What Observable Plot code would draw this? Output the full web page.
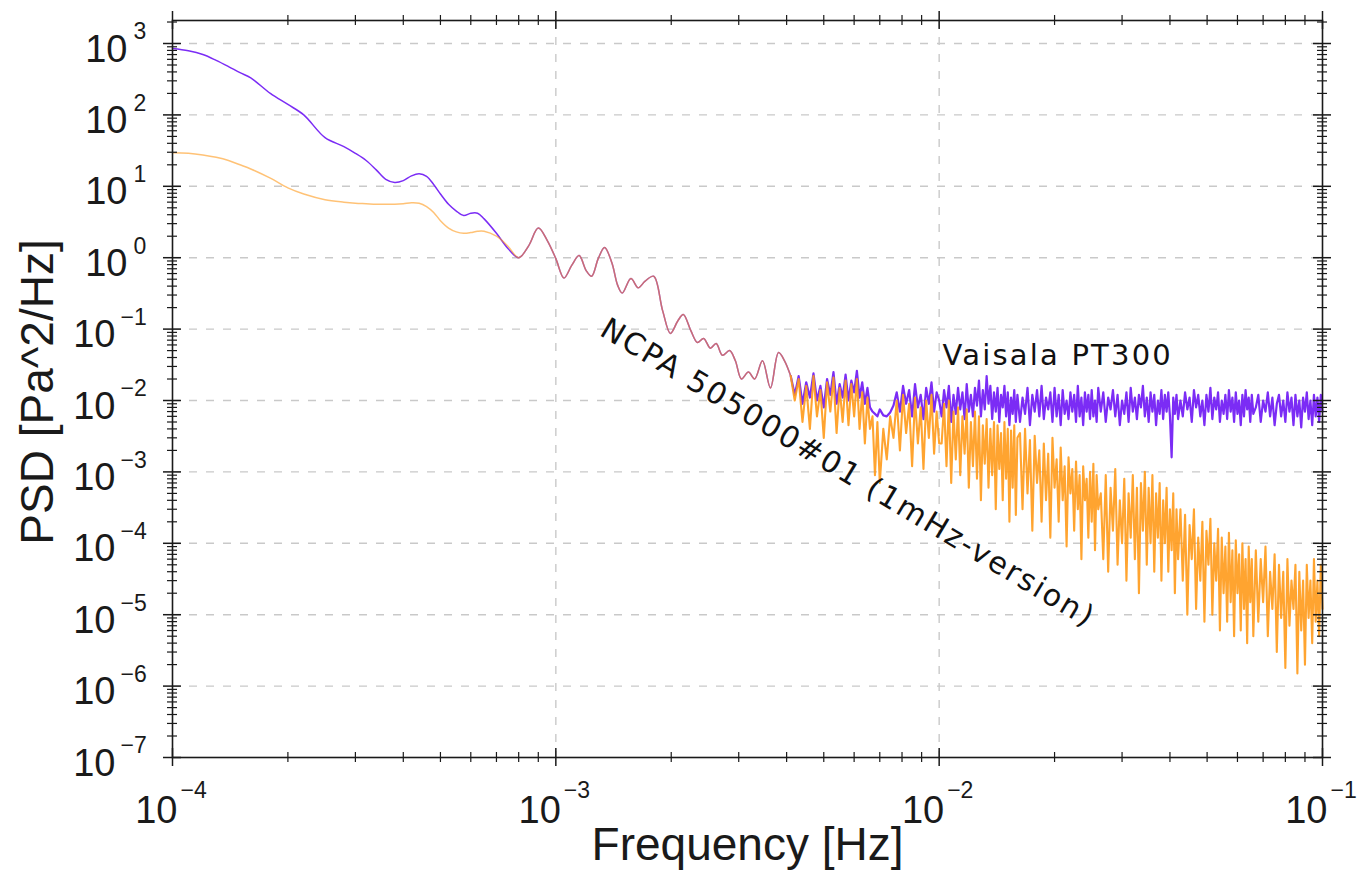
<!DOCTYPE html>
<html>
<head>
<meta charset="utf-8">
<script src="https://cdn.jsdelivr.net/npm/d3@7"></script>
<script src="https://cdn.jsdelivr.net/npm/@observablehq/plot@0.6"></script>
<style>
  html, body { margin: 0; padding: 0; background: #ffffff; }
  svg { display: block; }
</style>
</head>
<body>
<div id="chart"></div>
<script>
// ---------- data (frequency in Hz, PSD in Pa^2/Hz) ----------
const freqHz = [
  // low-frequency part (smooth)
  1.0e-4, 1.1e-4, 1.2e-4, 1.3e-4, 1.4e-4, 1.5e-4, 1.6e-4, 1.8e-4, 2.0e-4, 2.2e-4,
  2.5e-4, 2.8e-4, 3.0e-4, 3.2e-4, 3.4e-4, 3.6e-4, 3.8e-4, 4.0e-4, 4.2e-4, 4.4e-4,
  4.6e-4, 4.8e-4, 5.0e-4, 5.25e-4, 5.5e-4, 5.75e-4, 6.0e-4, 6.25e-4, 6.5e-4, 7.0e-4, 7.5e-4,
  // middle part (both sensors agree)
  8.0e-4, 8.5e-4, 9.0e-4, 9.5e-4, 1.0e-3, 1.05e-3, 1.1e-3, 1.15e-3, 1.2e-3, 1.24e-3,
  1.29e-3, 1.34e-3, 1.40e-3, 1.45e-3, 1.49e-3, 1.57e-3, 1.64e-3, 1.71e-3, 1.80e-3, 1.90e-3,
  1.99e-3, 2.08e-3, 2.15e-3, 2.25e-3, 2.34e-3, 2.43e-3, 2.53e-3, 2.62e-3, 2.72e-3, 2.84e-3,
  2.94e-3, 3.05e-3, 3.18e-3, 3.30e-3, 3.46e-3, 3.63e-3, 3.81e-3, 3.95e-3, 4.10e-3,
  // noisy part, 4.2 - 10 mHz
  4.2e-3, 4.3e-3, 4.4e-3, 4.5e-3, 4.6e-3, 4.7e-3, 4.8e-3, 4.9e-3, 5.0e-3, 5.1e-3,
  5.2e-3, 5.3e-3, 5.4e-3, 5.5e-3, 5.6e-3, 5.7e-3, 5.8e-3, 5.9e-3, 6.0e-3, 6.1e-3,
  6.2e-3, 6.3e-3, 6.4e-3, 6.5e-3, 6.6e-3, 6.7e-3, 6.8e-3, 6.9e-3, 7.0e-3,
  7.15e-3, 7.3e-3, 7.45e-3, 7.6e-3, 7.75e-3, 7.9e-3, 8.05e-3, 8.2e-3, 8.35e-3, 8.5e-3,
  8.65e-3, 8.8e-3, 8.95e-3, 9.1e-3, 9.25e-3, 9.4e-3, 9.55e-3, 9.7e-3, 9.85e-3, 10.0e-3,
  // 10 - 16 mHz
  10.15e-3, 10.3e-3, 10.45e-3, 10.6e-3, 10.75e-3, 10.9e-3, 11.05e-3, 11.2e-3, 11.35e-3, 11.5e-3,
  11.65e-3, 11.8e-3, 11.95e-3, 12.1e-3, 12.25e-3, 12.4e-3, 12.55e-3, 12.7e-3, 12.85e-3, 13.0e-3,
  13.15e-3, 13.3e-3, 13.45e-3, 13.6e-3, 13.75e-3, 13.9e-3, 14.05e-3, 14.2e-3, 14.35e-3, 14.5e-3,
  14.65e-3, 14.8e-3, 14.95e-3, 15.1e-3, 15.25e-3, 15.4e-3, 15.55e-3, 15.7e-3, 15.85e-3, 16.0e-3,
  // 16 - 26 mHz
  16.25e-3, 16.5e-3, 16.75e-3, 17.0e-3, 17.25e-3, 17.5e-3, 17.75e-3, 18.0e-3, 18.25e-3, 18.5e-3,
  18.75e-3, 19.0e-3, 19.25e-3, 19.5e-3, 19.75e-3, 20.0e-3, 20.25e-3, 20.5e-3, 20.75e-3, 21.0e-3,
  21.25e-3, 21.5e-3, 21.75e-3, 22.0e-3, 22.25e-3, 22.5e-3, 22.75e-3, 23.0e-3, 23.25e-3, 23.5e-3,
  23.75e-3, 24.0e-3, 24.25e-3, 24.5e-3, 24.75e-3, 25.0e-3, 25.25e-3, 25.5e-3, 25.75e-3, 26.0e-3,
  // 26 - 42 mHz
  26.4e-3, 26.8e-3, 27.2e-3, 27.6e-3, 28.0e-3, 28.4e-3, 28.8e-3, 29.2e-3, 29.6e-3, 30.0e-3,
  30.4e-3, 30.8e-3, 31.2e-3, 31.6e-3, 32.0e-3, 32.4e-3, 32.8e-3, 33.2e-3, 33.6e-3, 34.0e-3,
  34.4e-3, 34.8e-3, 35.2e-3, 35.6e-3, 36.0e-3, 36.4e-3, 36.8e-3, 37.2e-3, 37.6e-3, 38.0e-3,
  38.4e-3, 38.8e-3, 39.2e-3, 39.6e-3, 40.0e-3, 40.4e-3, 40.8e-3, 41.2e-3, 41.6e-3, 42.0e-3,
  // 42 - 66 mHz
  42.6e-3, 43.2e-3, 43.8e-3, 44.4e-3, 45.0e-3, 45.6e-3, 46.2e-3, 46.8e-3, 47.4e-3, 48.0e-3,
  48.6e-3, 49.2e-3, 49.8e-3, 50.4e-3, 51.0e-3, 51.6e-3, 52.2e-3, 52.8e-3, 53.4e-3, 54.0e-3,
  54.6e-3, 55.2e-3, 55.8e-3, 56.4e-3, 57.0e-3, 57.6e-3, 58.2e-3, 58.8e-3, 59.4e-3, 60.0e-3,
  60.6e-3, 61.2e-3, 61.8e-3, 62.4e-3, 63.0e-3, 63.6e-3, 64.2e-3, 64.8e-3, 65.4e-3, 66.0e-3,
  // 66 - 100 mHz
  67e-3, 68e-3, 69e-3, 70e-3, 71e-3, 72e-3, 73e-3, 74e-3, 75e-3, 76e-3,
  77e-3, 78e-3, 79e-3, 80e-3, 81e-3, 82e-3, 83e-3, 84e-3, 85e-3, 86e-3,
  87e-3, 88e-3, 89e-3, 90e-3, 91e-3, 92e-3, 93e-3, 94e-3, 95e-3, 96e-3,
  97e-3, 98e-3, 99e-3, 100e-3
];

const psdVaisala = [
  850, 790, 700, 580, 475, 390, 330, 200, 140, 100,
  48, 36, 29, 23, 17, 12.5, 11.3, 12, 14, 15,
  13.8, 10.6, 7.8, 5.6, 4.5, 3.9, 4.2, 4.2, 3.5, 2.2, 1.35,
  1.0, 1.48, 2.6, 1.74, 0.97, 0.52, 0.78, 1.07, 0.66, 0.55,
  0.97, 1.39, 0.85, 0.41, 0.32, 0.51, 0.38, 0.47, 0.55, 0.18,
  0.087, 0.13, 0.16, 0.095, 0.065, 0.074, 0.054, 0.063, 0.043, 0.050,
  0.036, 0.020, 0.025, 0.020, 0.036, 0.015, 0.047, 0.036, 0.022,
  // 4.2 - 10 mHz
  0.012, 0.022, 0.009, 0.018, 0.011, 0.024, 0.010, 0.016, 0.008, 0.020,
  0.012, 0.025, 0.009, 0.017, 0.011, 0.023, 0.010, 0.019, 0.013, 0.026,
  0.011, 0.018, 0.009, 0.015, 0.008, 0.007, 0.0065, 0.006, 0.0075,
  0.0062, 0.0060, 0.0068, 0.0085, 0.013, 0.007, 0.016, 0.009, 0.014, 0.006,
  0.017, 0.008, 0.012, 0.0055, 0.015, 0.009, 0.018, 0.007, 0.013, 0.010,
  // 10 - 16 mHz
  0.006, 0.014, 0.008, 0.016, 0.005, 0.012, 0.0065, 0.015, 0.0075, 0.013,
  0.0055, 0.017, 0.007, 0.012, 0.006, 0.015, 0.0085, 0.019, 0.006, 0.014,
  0.0075, 0.022, 0.009, 0.016, 0.0055, 0.013, 0.007, 0.015, 0.005, 0.012,
  0.008, 0.016, 0.006, 0.013, 0.0045, 0.011, 0.0065, 0.014, 0.005, 0.012,
  // 16 - 26 mHz
  0.005, 0.011, 0.0065, 0.015, 0.0045, 0.012, 0.007, 0.014, 0.006, 0.016,
  0.0055, 0.011, 0.0075, 0.013, 0.005, 0.015, 0.006, 0.012, 0.0045, 0.014,
  0.0065, 0.010, 0.0055, 0.013, 0.007, 0.012, 0.005, 0.016, 0.006, 0.011,
  0.0045, 0.013, 0.007, 0.012, 0.0055, 0.014, 0.006, 0.010, 0.005, 0.015,
  // 26 - 42 mHz
  0.007, 0.013, 0.005, 0.011, 0.0075, 0.014, 0.006, 0.012, 0.0045, 0.010,
  0.0065, 0.013, 0.005, 0.015, 0.007, 0.011, 0.0055, 0.012, 0.008, 0.016,
  0.006, 0.011, 0.005, 0.013, 0.007, 0.012, 0.0045, 0.010, 0.0065, 0.014,
  0.0055, 0.012, 0.007, 0.013, 0.006, 0.0016, 0.011, 0.0065, 0.012, 0.0055,
  // 42 - 66 mHz
  0.010, 0.006, 0.013, 0.0075, 0.011, 0.005, 0.014, 0.008, 0.012, 0.006,
  0.010, 0.0045, 0.012, 0.007, 0.015, 0.0055, 0.011, 0.0075, 0.013, 0.005,
  0.010, 0.0065, 0.012, 0.0055, 0.014, 0.007, 0.011, 0.005, 0.013, 0.0065,
  0.010, 0.0045, 0.012, 0.006, 0.014, 0.0075, 0.011, 0.005, 0.012, 0.0065,
  // 66 - 100 mHz
  0.008, 0.012, 0.005, 0.010, 0.007, 0.013, 0.006, 0.011, 0.0045, 0.009,
  0.012, 0.006, 0.010, 0.005, 0.013, 0.007, 0.011, 0.0045, 0.012, 0.006,
  0.010, 0.0042, 0.011, 0.007, 0.013, 0.0055, 0.010, 0.0045, 0.012, 0.006,
  0.011, 0.005, 0.012, 0.007
];

const psdNCPA = [
  29.5, 29, 27.5, 25.5, 23, 20, 17.5, 13, 9.5, 7.8,
  6.5, 6.0, 5.8, 5.7, 5.6, 5.6, 5.6, 5.7, 5.9, 5.8,
  5.2, 4.3, 3.3, 2.6, 2.3, 2.2, 2.25, 2.35, 2.35, 2.0, 1.45,
  1.0, 1.48, 2.6, 1.74, 0.97, 0.52, 0.78, 1.07, 0.66, 0.55,
  0.97, 1.39, 0.85, 0.41, 0.32, 0.51, 0.38, 0.47, 0.55, 0.18,
  0.087, 0.13, 0.16, 0.095, 0.065, 0.074, 0.054, 0.063, 0.043, 0.050,
  0.036, 0.020, 0.025, 0.020, 0.036, 0.015, 0.047, 0.036, 0.022,
  // 4.2 - 10 mHz
  0.010, 0.020, 0.005, 0.016, 0.004, 0.022, 0.006, 0.014, 0.003, 0.018,
  0.007, 0.021, 0.0035, 0.015, 0.005, 0.019, 0.0045, 0.017, 0.006, 0.020,
  0.004, 0.013, 0.0025, 0.011, 0.004, 0.006, 0.0009, 0.005, 0.0007,
  0.004, 0.0015, 0.006, 0.003, 0.010, 0.002, 0.012, 0.0035, 0.009, 0.0012,
  0.011, 0.0025, 0.008, 0.0011, 0.010, 0.003, 0.012, 0.0018, 0.007, 0.0025,
  // 10 - 16 mHz
  0.0025, 0.009, 0.0012, 0.010, 0.0007, 0.007, 0.0015, 0.008, 0.0009, 0.006,
  0.0018, 0.0075, 0.0006, 0.005, 0.0012, 0.007, 0.0008, 0.006, 0.0004, 0.0045,
  0.0013, 0.0055, 0.0006, 0.004, 0.0009, 0.005, 0.0003, 0.0045, 0.0011, 0.0035,
  0.0004, 0.005, 0.0008, 0.004, 0.0002, 0.0038, 0.0006, 0.0045, 0.00025, 0.003,
  // 16 - 26 mHz
  0.0035, 0.0003, 0.004, 0.0005, 0.0028, 0.00015, 0.0032, 0.0007, 0.002, 0.0002,
  0.0025, 0.0004, 0.0018, 0.00012, 0.003, 0.0006, 0.0015, 0.0002, 0.0022, 0.0004,
  0.0012, 0.00009, 0.0016, 0.0005, 0.0011, 0.00015, 0.0014, 0.0003, 0.0009, 0.00006,
  0.0012, 0.0004, 0.0008, 0.00012, 0.001, 0.0002, 0.0013, 0.00008, 0.0009, 0.0003,
  // 26 - 42 mHz
  0.0005, 0.00006, 0.0009, 0.00004, 0.0006, 0.00015, 0.0011, 0.00005, 0.0004, 0.0001,
  0.0008, 0.00003, 0.0005, 0.00012, 0.0009, 0.00006, 0.0006, 0.00002, 0.0007, 0.00015,
  0.001, 0.00005, 0.0006, 0.0001, 0.0009, 0.00004, 0.0005, 0.00012, 0.0007, 0.00003,
  0.0004, 0.0001, 0.0006, 0.00004, 0.0003, 0.00008, 0.0005, 0.00002, 0.0003, 0.00006,
  // 42 - 66 mHz
  0.0003, 0.00003, 0.00025, 0.00001, 0.00018, 0.00006, 0.0003, 0.000012, 0.00012, 0.00003,
  0.0002, 0.000008, 0.00015, 0.00005, 0.00022, 0.00001, 0.0001, 0.00003, 0.00016, 0.000006,
  0.00012, 0.00002, 0.00009, 0.000008, 0.00014, 0.000015, 0.00008, 0.000005, 0.00011, 0.00002,
  0.00007, 0.000006, 0.0001, 0.000012, 0.00006, 0.000004, 0.00009, 0.000015, 0.00006, 0.000005,
  // 66 - 100 mHz
  0.00008, 0.000008, 0.00006, 0.000015, 0.00009, 0.000005, 0.00004, 0.000012, 0.00007, 0.000003,
  0.00005, 0.000009, 0.00004, 0.0000018, 0.00006, 0.000007, 0.00003, 0.000012, 0.00005, 0.0000015,
  0.00004, 0.000006, 0.00003, 0.000002, 0.00005, 0.000009, 0.00003, 0.000004, 0.00006, 0.000008,
  0.00003, 0.000005, 0.00005, 0.000012
];

// axis tick values and labels
const xMajor = [1e-4, 1e-3, 1e-2, 1e-1];
const xExponent = ["\u22124", "\u22123", "\u22122", "\u22121"];
const yMajor = [1e-7, 1e-6, 1e-5, 1e-4, 1e-3, 1e-2, 1e-1, 1e0, 1e1, 1e2, 1e3];
const yExponent = ["\u22127", "\u22126", "\u22125", "\u22124", "\u22123", "\u22122", "\u22121", "0", "1", "2", "3"];
const minorSteps = [2, 3, 4, 5, 6, 7, 8, 9];

// annotation texts
const labelVaisala = "Vaisala PT300";
const labelNCPA = "NCPA 505000#01 (1mHz-version)";
const xTitle = "Frequency [Hz]";
const yTitle = "PSD [Pa^2/Hz]";

// ---------- build ----------
if (psdVaisala.length !== freqHz.length || psdNCPA.length !== freqHz.length) {
  console.error("length mismatch", freqHz.length, psdVaisala.length, psdNCPA.length);
}
const vaisalaData = freqHz.map((f, i) => ({f, v: psdVaisala[i]}));
const ncpaData = freqHz.map((f, i) => ({f, v: psdNCPA[i]}));
// smooth part (< 4.1 mHz) and noisy part (>= 4.1 mHz), sharing the 4.1 mHz point
const noiseStart = freqHz.indexOf(4.10e-3);
const vaisalaSmooth = vaisalaData.slice(0, noiseStart + 1);
const vaisalaNoisy = vaisalaData.slice(noiseStart);
const ncpaSmooth = ncpaData.slice(0, noiseStart + 1);
const ncpaNoisy = ncpaData.slice(noiseStart);

const xDomain = [1e-4, 1e-1];
const yDomain = [1e-7, 2100];

const xMinor = xMajor.slice(0, -1).flatMap(d => minorSteps.map(m => m * d));
const yMinor = yMajor.flatMap(d => minorSteps.map(m => m * d)).filter(v => v < yDomain[1]);

const xTicks = xMajor.map((v, i) => ({v, e: xExponent[i]}));
const yTicks = yMajor.map((v, i) => ({v, e: yExponent[i]}));
const yTicksNeg = yTicks.filter(d => d.v < 1);
const yTicksPos = yTicks.filter(d => d.v >= 1);

const axisColor = "#1a1a1a";
const purple = "#7b2cf5";
const orange = "#ff9a1a";
const tickFont = "Liberation Sans, Arial, Helvetica, sans-serif";
const annFont = "DejaVu Sans, Verdana, sans-serif";

const tickStyle = {stroke: axisColor, strokeWidth: 1.5};
const MAJ = 9, MIN = 5;
const lab = {lineAnchor: "middle", fontFamily: tickFont, fill: axisColor};

const chart = Plot.plot({
  width: 1361,
  height: 887,
  marginLeft: 172,
  marginRight: 39,
  marginTop: 20,
  marginBottom: 130,
  style: {background: "#ffffff", overflow: "visible"},
  x: {type: "log", domain: xDomain, axis: null},
  y: {type: "log", domain: yDomain, axis: null},
  marks: [
    // dashed decade grid
    Plot.ruleY(yMajor.slice(1), {y: d => d, stroke: "#c9c9c9", strokeWidth: 1.4, strokeDasharray: "8,9"}),
    Plot.ruleX(xMajor.slice(1, -1), {x: d => d, stroke: "#c9c9c9", strokeWidth: 1.4, strokeDasharray: "8,9"}),

    // spectra
    Plot.line(vaisalaSmooth, {x: "f", y: "v", stroke: purple, strokeWidth: 1.5, curve: "catmull-rom"}),
    Plot.line(vaisalaNoisy, {x: "f", y: "v", stroke: purple, strokeWidth: 2.2, strokeLinejoin: "round"}),
    Plot.line(ncpaSmooth, {x: "f", y: "v", stroke: orange, strokeWidth: 1.5, strokeOpacity: 0.6, curve: "catmull-rom"}),
    Plot.line(ncpaNoisy, {x: "f", y: "v", stroke: orange, strokeWidth: 2.1, strokeOpacity: 0.9, strokeLinejoin: "round"}),

    // frame
    Plot.frame({stroke: axisColor, strokeWidth: 1.6}),

    // ticks crossing the frame: left & right
    Plot.ruleY(yMajor, {y: d => d, x1: xDomain[0], x2: xDomain[0], insetLeft: -MAJ, insetRight: -MAJ, ...tickStyle}),
    Plot.ruleY(yMajor, {y: d => d, x1: xDomain[1], x2: xDomain[1], insetLeft: -MAJ, insetRight: -MAJ, ...tickStyle}),
    Plot.ruleY(yMinor, {y: d => d, x1: xDomain[0], x2: xDomain[0], insetLeft: -MIN, insetRight: -MIN, ...tickStyle, strokeWidth: 1.2}),
    Plot.ruleY(yMinor, {y: d => d, x1: xDomain[1], x2: xDomain[1], insetLeft: -MIN, insetRight: -MIN, ...tickStyle, strokeWidth: 1.2}),
    // ticks crossing the frame: bottom & top
    Plot.ruleX(xMajor, {x: d => d, y1: yDomain[0], y2: yDomain[0], insetTop: -MAJ, insetBottom: -MAJ, ...tickStyle}),
    Plot.ruleX(xMajor, {x: d => d, y1: yDomain[1], y2: yDomain[1], insetTop: -MAJ, insetBottom: -MAJ, ...tickStyle}),
    Plot.ruleX(xMinor, {x: d => d, y1: yDomain[0], y2: yDomain[0], insetTop: -MIN, insetBottom: -MIN, ...tickStyle, strokeWidth: 1.2}),
    Plot.ruleX(xMinor, {x: d => d, y1: yDomain[1], y2: yDomain[1], insetTop: -MIN, insetBottom: -MIN, ...tickStyle, strokeWidth: 1.2}),

    // x tick labels: 10 with superscript exponent
    Plot.text(xTicks, {x: "v", frameAnchor: "bottom", text: () => "10", textAnchor: "end",
      dx: 5, dy: 53, fontSize: 38, ...lab}),
    Plot.text(xTicks, {x: "v", frameAnchor: "bottom", text: "e", textAnchor: "start",
      dx: 8, dy: 33, fontSize: 23, ...lab}),

    // y tick labels
    Plot.text(yTicksPos, {y: "v", frameAnchor: "left", text: () => "10", textAnchor: "end",
      dx: -45, dy: 6, fontSize: 38, ...lab}),
    Plot.text(yTicksPos, {y: "v", frameAnchor: "left", text: "e", textAnchor: "start",
      dx: -39, dy: -11.5, fontSize: 23, ...lab}),
    Plot.text(yTicksNeg, {y: "v", frameAnchor: "left", text: () => "10", textAnchor: "end",
      dx: -57, dy: 6, fontSize: 38, ...lab}),
    Plot.text(yTicksNeg, {y: "v", frameAnchor: "left", text: "e", textAnchor: "start",
      dx: -52, dy: -11.5, fontSize: 23, ...lab}),

    // axis titles
    Plot.text([xTitle], {frameAnchor: "bottom", text: d => d, textAnchor: "middle",
      dy: 88, fontSize: 46, ...lab}),
    Plot.text([yTitle], {frameAnchor: "left", text: d => d, textAnchor: "middle", rotate: -90,
      dx: -134, dy: 3, fontSize: 46, ...lab}),

    // in-plot annotations
    Plot.text([{f: 1.02e-2, v: 0.043}], {x: "f", y: "v", text: () => labelVaisala, textAnchor: "start",
      lineAnchor: "middle", fontSize: 29, fontFamily: annFont, fill: "#111"}),
    Plot.text([{f: 1.33e-3, v: 0.11}], {x: "f", y: "v", text: () => labelNCPA, textAnchor: "start",
      lineAnchor: "middle", rotate: 31, fontSize: 30, fontFamily: annFont, fill: "#111"})
  ]
});

// slightly wider letter spacing for the in-plot annotations
chart.querySelectorAll("text").forEach(t => {
  if (t.textContent === labelVaisala || t.textContent === labelNCPA) {
    t.setAttribute("letter-spacing", "2.2");
  }
});

document.getElementById("chart").appendChild(chart);
</script>
</body>
</html>
